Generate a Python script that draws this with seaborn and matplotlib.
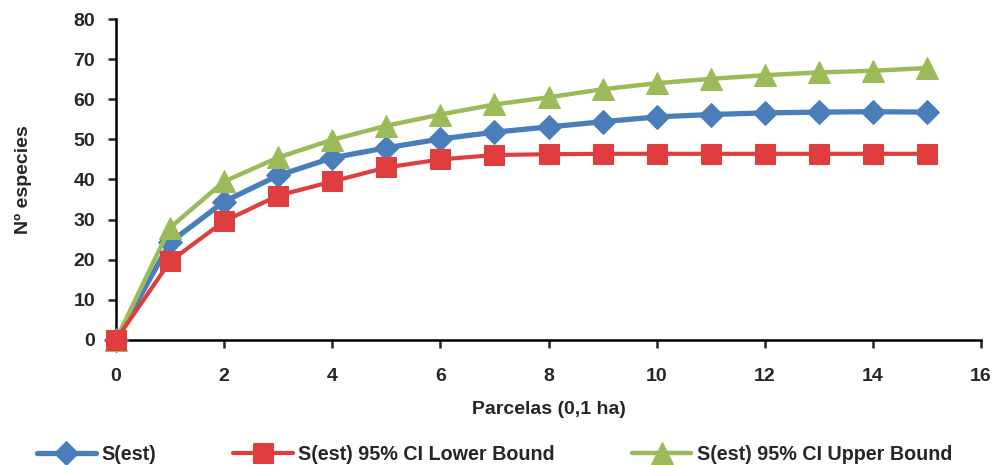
import matplotlib.pyplot as plt
import seaborn as sns
import pandas as pd

# Datos
parcelas = list(range(16))
s_est = [0, 24.3, 34.5, 41.0, 45.4, 47.9, 50.1, 51.8, 53.1, 54.4, 55.6, 56.2, 56.6, 56.8, 56.9, 56.8]
s_lower = [0, 19.6, 29.6, 36.0, 39.5, 43.0, 45.0, 46.1, 46.3, 46.4, 46.4, 46.4, 46.4, 46.4, 46.4, 46.4]
s_upper = [0, 28.0, 39.5, 45.5, 49.9, 53.4, 56.2, 58.7, 60.5, 62.5, 64.0, 65.1, 66.0, 66.7, 67.1, 67.8]

series_names = ['S(est)', 'S(est) 95% CI Lower Bound', 'S(est) 95% CI Upper Bound']
colors = ['#4A7EBB', '#E03E3E', '#9BBB59']
markers = ['D', 's', '^']
msizes = [12, 14, 16]
lwidths = [3.8, 3.0, 3.2]
zorders = [3, 5, 4]

df = pd.DataFrame({'x': parcelas, series_names[0]: s_est,
                   series_names[1]: s_lower, series_names[2]: s_upper})

sns.set_style('white')
plt.rcParams['font.family'] = ['Liberation Sans', 'DejaVu Sans']
plt.rcParams['font.weight'] = 'bold'

fig = plt.figure(figsize=(9.95, 4.65), dpi=100)
ax = fig.add_axes([0.1166, 0.269, 0.8694, 0.69])

for name, c, m, ms, lw, z in zip(series_names, colors, markers, msizes, lwidths, zorders):
    sns.lineplot(data=df, x='x', y=name, ax=ax, color=c, marker=m, clip_on=False,
                 markersize=ms, markeredgecolor=c, linewidth=lw, label=name, zorder=z)

ax.set_xlim(0, 16)
ax.set_ylim(0, 80)
ax.set_xticks(range(0, 17, 2))
ax.set_yticks(range(0, 81, 10))
ax.tick_params(axis='x', labelsize=14, length=6, width=1.8, direction='out',
               bottom=True, pad=14)
ax.tick_params(axis='y', labelsize=14, length=6, width=1.8, direction='out',
               left=True, pad=9)
for lab in ax.get_xticklabels() + ax.get_yticklabels():
    lab.set_fontweight('bold')

for side in ['top', 'right']:
    ax.spines[side].set_visible(False)
for side in ['left', 'bottom']:
    ax.spines[side].set_linewidth(1.8)
    ax.spines[side].set_color('black')

ax.set_xlabel('Parcelas (0,1 ha)', fontsize=14, fontweight='bold', labelpad=12)
ax.set_ylabel('Nº especies', fontsize=14, fontweight='bold', labelpad=30)

handles, labels = ax.get_legend_handles_labels()
ax.get_legend().remove()
fig.legend(handles, labels, loc='lower left', bbox_to_anchor=(0.019, -0.035), ncol=3,
           frameon=False, handlelength=3.0, columnspacing=3.9,
           handletextpad=0.3, prop={'weight': 'bold', 'size': 14.2})

plt.savefig('out.png', dpi=100)
